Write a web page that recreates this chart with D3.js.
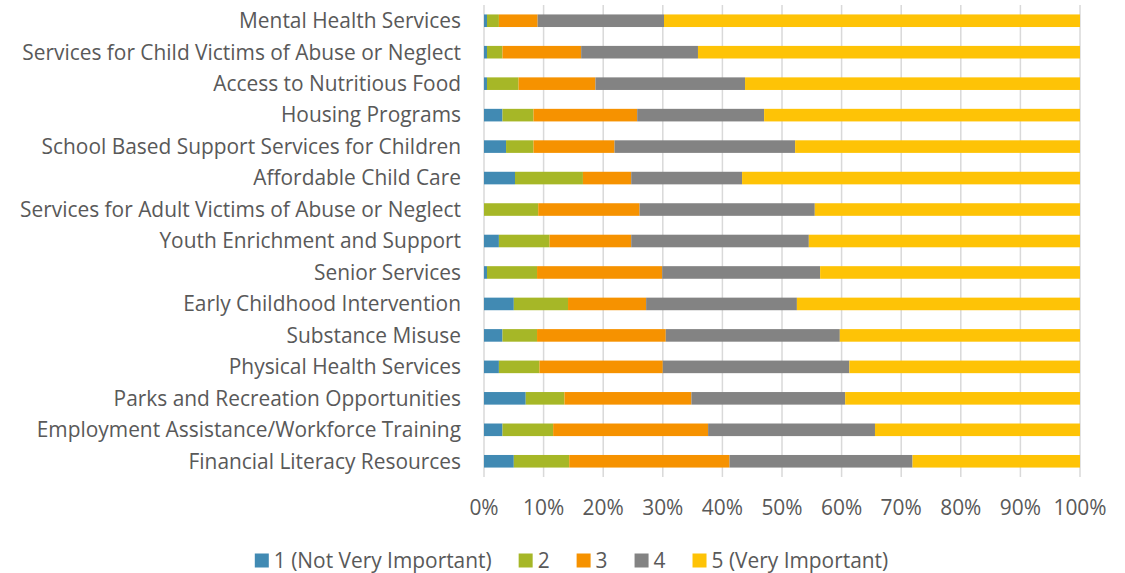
<!DOCTYPE html>
<html>
<head>
<meta charset="utf-8">
<script src="https://cdn.jsdelivr.net/npm/d3@7"></script>
<style>
  body { margin: 0; background: #fff; }
  svg text { font-family: "Open Sans", sans-serif; fill: #595959; }
</style>
</head>
<body>
<div id="chart"></div>
<script>
// categories top -> bottom
const categories = [
    "Mental Health Services",
    "Services for Child Victims of Abuse or Neglect",
    "Access to Nutritious Food",
    "Housing Programs",
    "School Based Support Services for Children",
    "Affordable Child Care",
    "Services for Adult Victims of Abuse or Neglect",
    "Youth Enrichment and Support",
    "Senior Services",
    "Early Childhood Intervention",
    "Substance Misuse",
    "Physical Health Services",
    "Parks and Recreation Opportunities",
    "Employment Assistance/Workforce Training",
    "Financial Literacy Resources"
];

const seriesNames = ["1 (Not Very Important)", "2", "3", "4", "5 (Very Important)"];
const seriesColors = ["#418AB3", "#A6B727", "#F69200", "#838383", "#FEC306"];

// percent per rating, same order as categories
const rating1 = [0.5, 0.5, 0.5, 3.1, 3.7, 5.2, 0.0, 2.5, 0.5, 5.0, 3.1, 2.5, 7.0, 3.1, 5.0];
const rating2 = [2.0, 2.6, 5.3, 5.2, 4.6, 11.4, 9.1, 8.5, 8.4, 9.1, 5.8, 6.8, 6.5, 8.5, 9.3];
const rating3 = [6.5, 13.2, 12.9, 17.4, 13.6, 8.1, 17.0, 13.7, 21.0, 13.1, 21.6, 20.7, 21.3, 26.0, 26.9];
const rating4 = [21.2, 19.6, 25.1, 21.3, 30.3, 18.6, 29.4, 29.8, 26.5, 25.3, 29.2, 31.3, 25.8, 28.0, 30.7];
const rating5 = [69.8, 64.1, 56.2, 53.0, 47.8, 56.7, 44.5, 45.5, 43.6, 47.5, 40.3, 38.7, 39.4, 34.4, 28.1];

const xTicks = [0, 10, 20, 30, 40, 50, 60, 70, 80, 90, 100];

const W = 1125, H = 573;
const plot = { left: 484, right: 1080, top: 5, bottom: 477 };
const fontSize = "20.9px";

const svg = d3.select("#chart").append("svg")
    .attr("width", W)
    .attr("height", H);

// build rows for the stack
const ratingCols = [rating1, rating2, rating3, rating4, rating5];
const rows = categories.map((c, i) => {
    let r = { cat: c };
    ratingCols.forEach((col, k) => { r["s" + k] = col[i]; });
    return r;
});
const keys = seriesNames.map((d, k) => "s" + k);

const stacked = d3.stack().keys(keys)
    .offset(d3.stackOffsetExpand)(rows);

const x = d3.scaleLinear().domain([0, 1]).range([plot.left, plot.right]);
const y = d3.scaleBand().domain(categories)
    .range([plot.top, plot.bottom])
    .paddingInner(0.6)
    .paddingOuter(0.3);

// gridlines
svg.append("g")
    .selectAll("line")
    .data(xTicks)
    .join("line")
    .attr("x1", d => x(d / 100))
    .attr("x2", d => x(d / 100))
    .attr("y1", plot.top)
    .attr("y2", plot.bottom)
    .attr("stroke", "#d9d9d9")
    .attr("stroke-width", 1.5);

// bars
svg.append("g")
    .selectAll("g")
    .data(stacked)
    .join("g")
    .attr("fill", (d, i) => seriesColors[i])
    .selectAll("rect")
    .data(d => d)
    .join("rect")
    .attr("x", d => x(d[0]))
    .attr("width", d => Math.max(0, x(d[1]) - x(d[0])))
    .attr("y", d => y(d.data.cat))
    .attr("height", y.bandwidth());

// category labels
svg.append("g")
    .selectAll("text")
    .data(categories)
    .join("text")
    .attr("x", plot.left - 23)
    .attr("y", d => y(d) + y.bandwidth() / 2)
    .attr("dy", "0.35em")
    .attr("text-anchor", "end")
    .style("font-size", fontSize)
    .text(d => d);

// x tick labels
svg.append("g")
    .selectAll("text")
    .data(xTicks)
    .join("text")
    .attr("x", d => x(d / 100))
    .attr("y", 515)
    .attr("text-anchor", "middle")
    .style("font-size", fontSize)
    .text(d => d + "%");

// legend
const legend = svg.append("g");
let lx = 0;
const gap = 27;
seriesNames.forEach((name, i) => {
    const item = legend.append("g").attr("transform", `translate(${lx},0)`);
    item.append("rect")
        .attr("x", 0)
        .attr("y", -7)
        .attr("width", 14)
        .attr("height", 14)
        .attr("fill", seriesColors[i]);
    const t = item.append("text")
        .attr("x", 19)
        .attr("dy", "0.35em")
        .style("font-size", fontSize)
        .text(name);
    lx += 19 + t.node().getComputedTextLength() + gap;
});
const legendW = lx - gap;
legend.attr("transform", `translate(${571.5 - legendW / 2}, 560.5)`);
</script>
</body>
</html>
